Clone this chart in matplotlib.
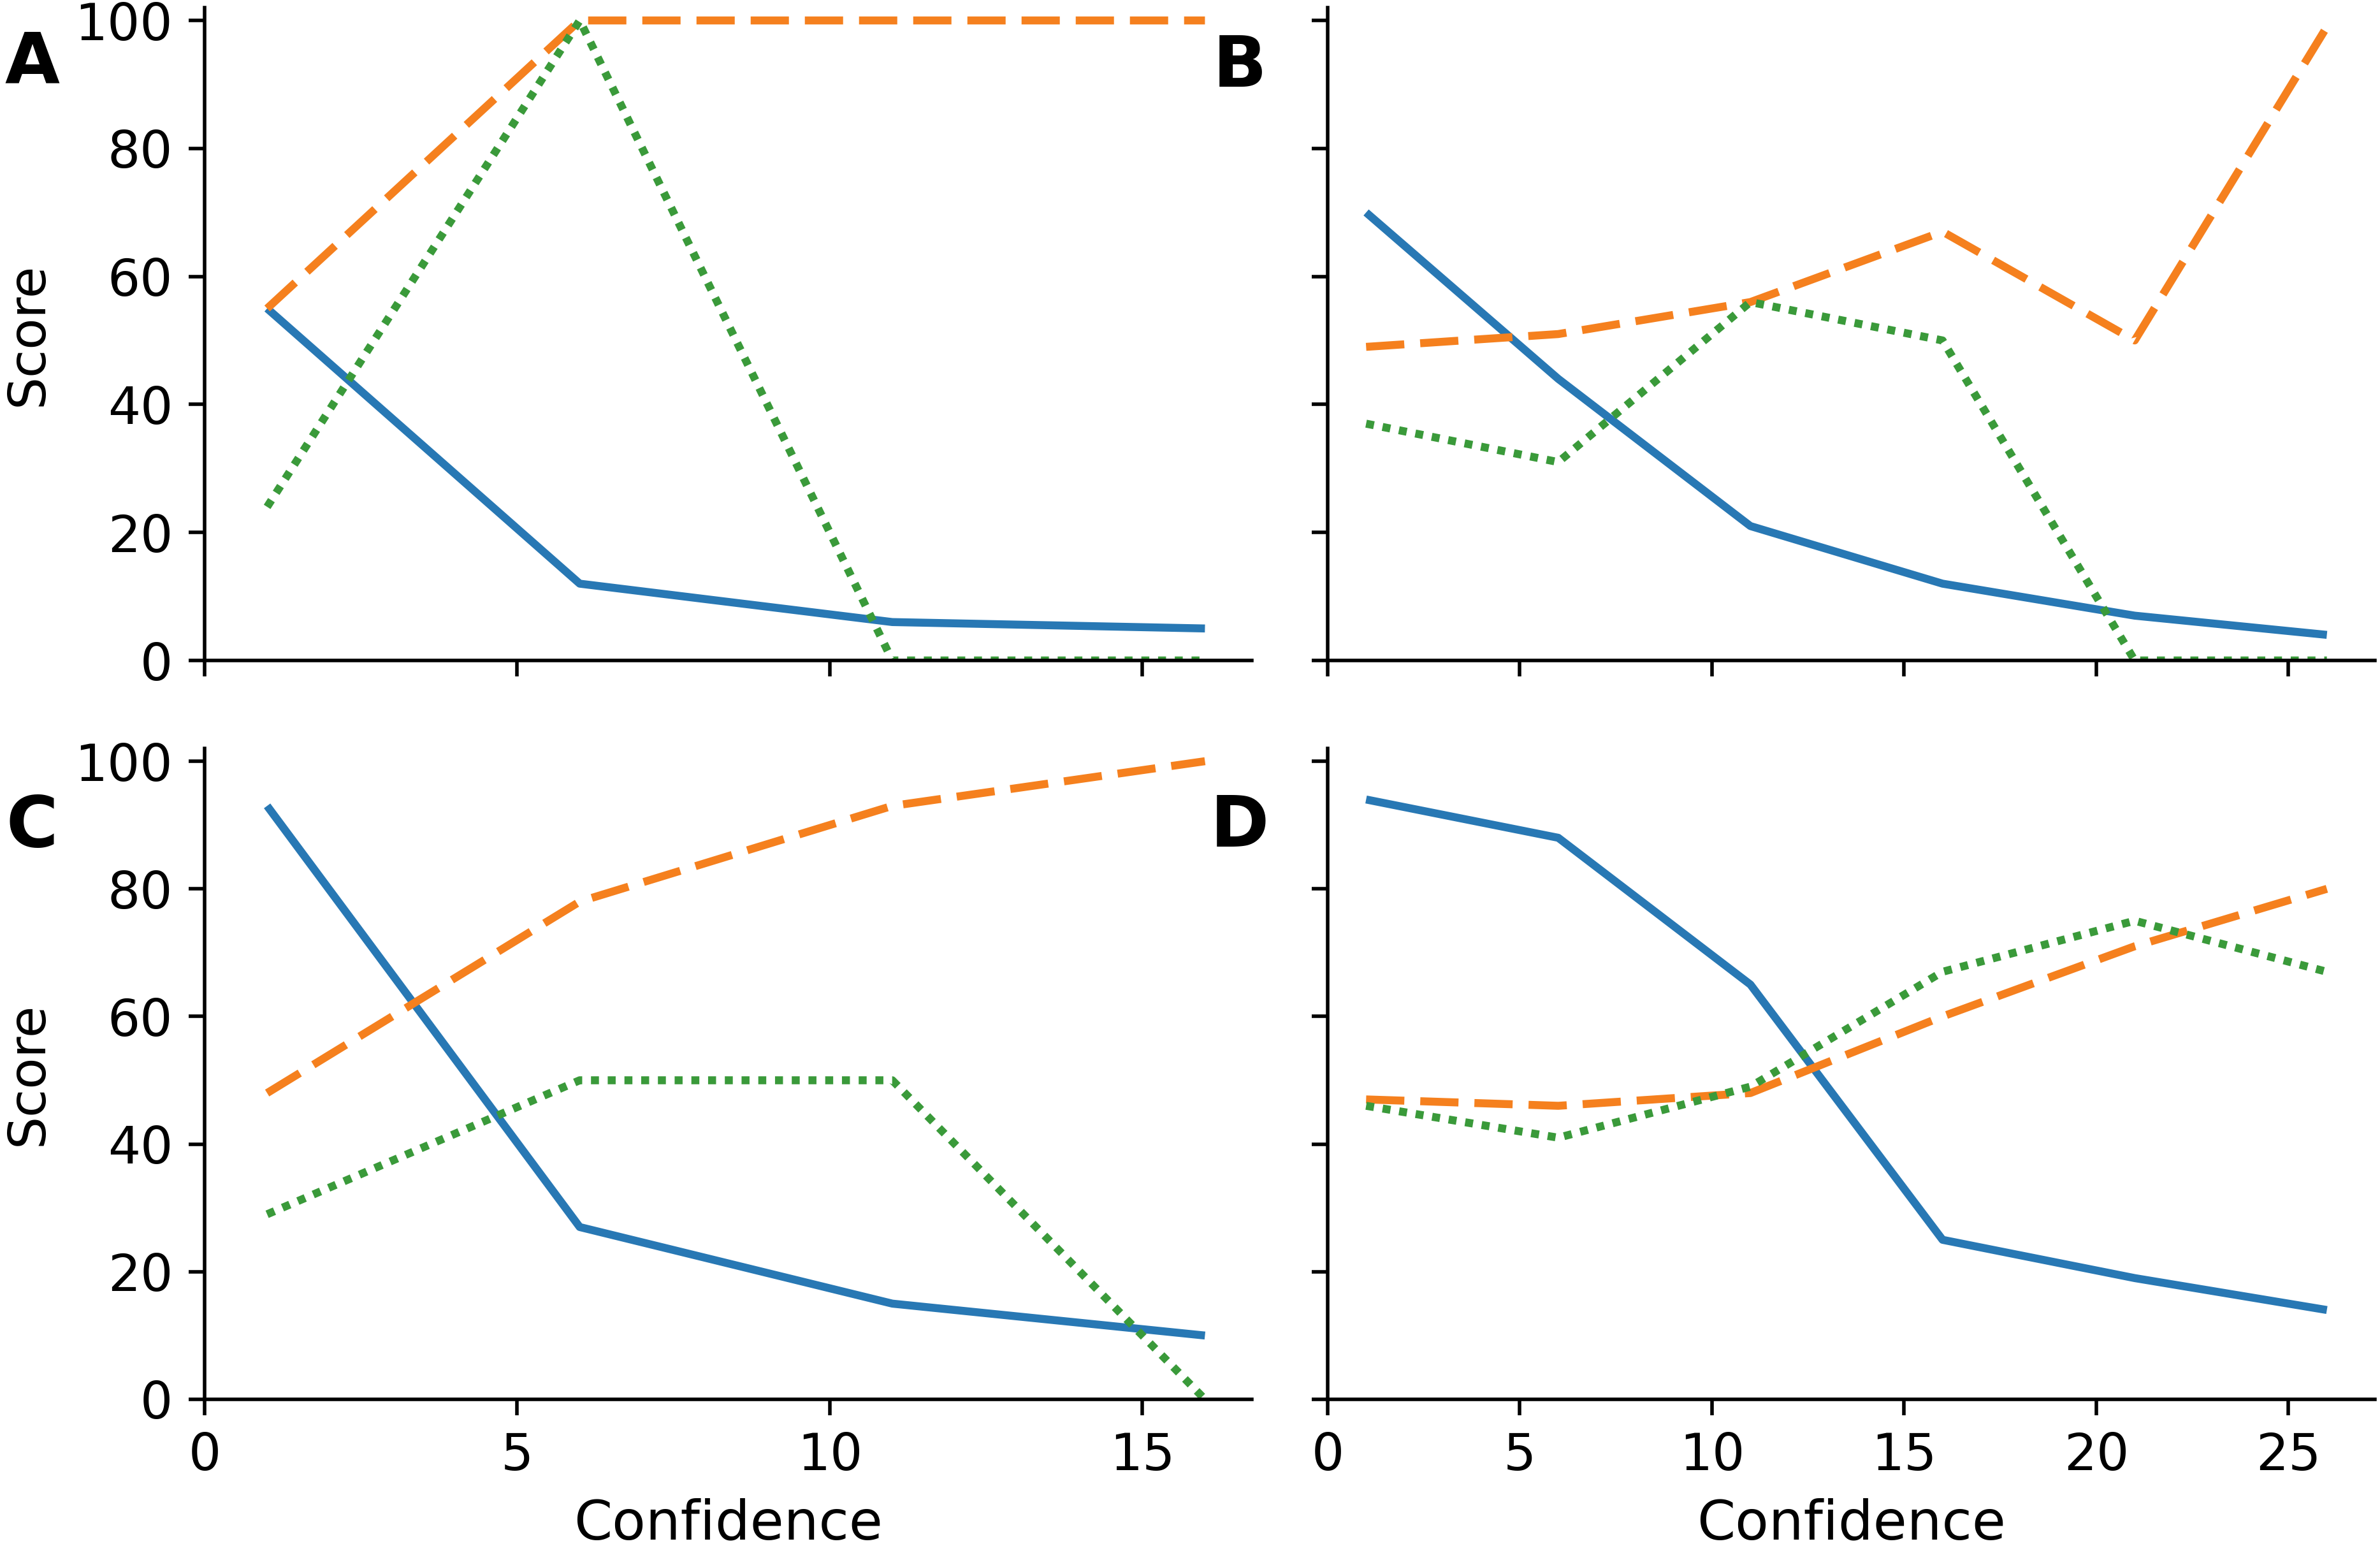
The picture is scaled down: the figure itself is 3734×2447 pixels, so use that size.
import matplotlib
matplotlib.use('Agg')
import matplotlib.pyplot as plt

# confidence bins
x_left = [1, 6, 11, 16]
x_right = [1, 6, 11, 16, 21, 26]

# panel A
a_solid = [55, 12, 6, 5]
a_dash = [55, 100, 100, 100]
a_dot = [24, 100, 0, 0]
# panel B
b_solid = [70, 44, 21, 12, 7, 4]
b_dash = [49, 51, 56, 67, 50, 99]
b_dot = [37, 31, 56, 50, 0, 0]
# panel C
c_solid = [93, 27, 15, 10]
c_dash = [48, 78, 93, 100]
c_dot = [29, 50, 50, 0]
# panel D
d_solid = [94, 88, 65, 25, 19, 14]
d_dash = [47, 46, 48, 60, 71, 80]
d_dot = [46, 41, 49, 67, 75, 67]

yticks = [0, 20, 40, 60, 80, 100]

plt.rcParams['font.family'] = ['DejaVu Sans']
plt.rcParams['font.size'] = 29

fig = plt.figure(figsize=(18.67, 12.235), dpi=200)

W = 3734
H = 2447
def pos(l, r, t, b):
    return [l / W, 1 - b / H, (r - l) / W, (b - t) / H]

axA = fig.add_axes(pos(321, 1964, 12, 1036))
axB = fig.add_axes(pos(2083, 3726, 12, 1036))
axC = fig.add_axes(pos(321, 1964, 1174, 2195))
axD = fig.add_axes(pos(2083, 3726, 1174, 2195))

panels = [
    (axA, x_left, a_solid, a_dash, a_dot, 'A'),
    (axB, x_right, b_solid, b_dash, b_dot, 'B'),
    (axC, x_left, c_solid, c_dash, c_dot, 'C'),
    (axD, x_right, d_solid, d_dash, d_dot, 'D'),
]

for ax, x, s, d, o, lab in panels:
    ax.plot(x, s, color='#2878b4', linewidth=4.5, linestyle='-', solid_capstyle='butt')
    ax.plot(x, d, color='#f5801e', linewidth=4.5, linestyle=(0, (4.8, 2.0)))
    ax.plot(x, o, color='#3a9a3a', linewidth=4.5, linestyle=(0, (1, 1.1)))
    ax.set_ylim(0, 102)
    ax.set_yticks(yticks)
    ax.spines['top'].set_visible(False)
    ax.spines['right'].set_visible(False)
    for sp in ['left', 'bottom']:
        ax.spines[sp].set_linewidth(2)
    ax.tick_params(direction='out', length=9, width=2, pad=9, labelsize=29)

for ax in (axA, axC):
    ax.set_xlim(0, 16.75)
    ax.set_xticks([0, 5, 10, 15])
    ax.set_ylabel('Score', fontsize=29)
    ax.yaxis.label.set_va('center')
    ax.yaxis.set_label_coords(-0.168, 0.5)
for ax in (axB, axD):
    ax.set_xlim(0, 27.25)
    ax.set_xticks([0, 5, 10, 15, 20, 25])
    ax.tick_params(labelleft=False)
for ax in (axA, axB):
    ax.tick_params(labelbottom=False)
for ax in (axC, axD):
    ax.set_xlabel('Confidence', fontsize=31)
    ax.xaxis.label.set_va('center')
    ax.xaxis.set_label_coords(0.5, -0.192)

fig.text(50 / W, 1 - 100 / H, 'A', fontsize=40, fontweight='bold', ha='center', va='center')
fig.text(1945 / W, 1 - 105 / H, 'B', fontsize=40, fontweight='bold', ha='center', va='center')
fig.text(50 / W, 1 - 1298 / H, 'C', fontsize=40, fontweight='bold', ha='center', va='center')
fig.text(1945 / W, 1 - 1298 / H, 'D', fontsize=40, fontweight='bold', ha='center', va='center')

fig.savefig('out.png', dpi=200)
